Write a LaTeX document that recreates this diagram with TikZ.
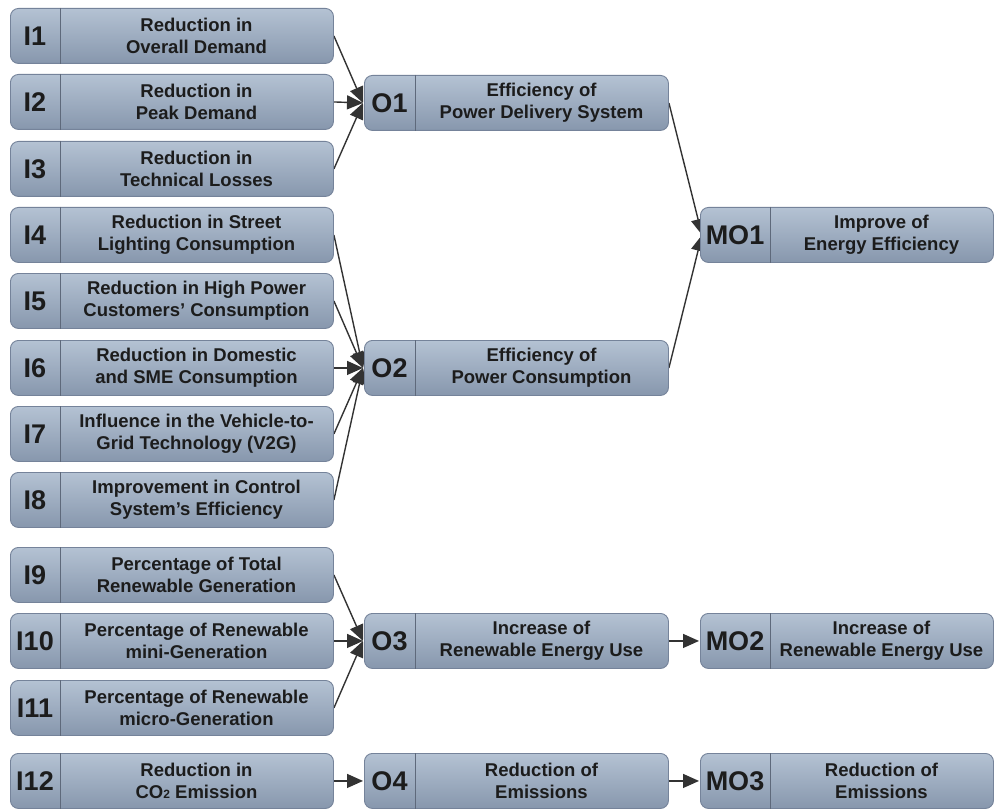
\documentclass[tikz,border=0pt]{standalone}
\usepackage{fontspec}
\setmainfont{Liberation Sans}
\usetikzlibrary{arrows.meta,calc,backgrounds}
\definecolor{boxtop}{HTML}{B4C2D3}
\definecolor{boxmid}{HTML}{9FB0C4}
\definecolor{boxbot}{HTML}{8797AD}
\definecolor{boxline}{HTML}{75839A}
\definecolor{txt}{HTML}{1C1C1C}
\definecolor{arrc}{HTML}{333333}
\tikzset{
  kbox/.style={rectangle, rounded corners=8pt, draw=boxline, line width=0.9pt,
    top color=boxtop, middle color=boxmid, bottom color=boxbot, minimum height=55pt, inner sep=0pt},
  divline/.style={draw=boxline!80!black, line width=0.9pt},
  lbl/.style={text=txt, font=\fontsize{27}{30}\selectfont\bfseries, inner sep=0pt},
  desc/.style={text=txt, font=\fontsize{18.5}{22}\selectfont\bfseries, align=center, inner sep=0pt},
  arr/.style={draw=arrc, line width=1.4pt, -{Triangle[length=16pt,width=14pt]}}
}
\newcommand{\kbox}[7]{%
  \node[kbox, minimum width=#4pt, anchor=north west] (#1) at (#2,#3) {};
  \draw[divline] ($(#1.north west)+(#5,0)$) -- ($(#1.south west)+(#5,0)$);
  \node[lbl] (#1l) at ($(#1.west)+({#5/2},0)$) {#6};
  \node[desc] (#1t) at ($(#1.west)+({#5+(#4-#5)/2},0)$) {#7};
}
\begin{document}
\begin{tikzpicture}[x=1pt,y=-1pt]
\useasboundingbox (0,0) rectangle (995,810);
% inputs
\kbox{I1}{10}{8}{323}{50}{I1}{Reduction in\\Overall Demand}
\kbox{I2}{10}{74}{323}{50}{I2}{Reduction in\\Peak Demand}
\kbox{I3}{10}{141}{323}{50}{I3}{Reduction in\\Technical Losses}
\kbox{I4}{10}{207}{323}{50}{I4}{Reduction in Street\\Lighting Consumption}
\kbox{I5}{10}{273}{323}{50}{I5}{Reduction in High Power\\Customers’ Consumption}
\kbox{I6}{10}{340}{323}{50}{I6}{Reduction in Domestic\\and SME Consumption}
\kbox{I7}{10}{406}{323}{50}{I7}{Influence in the Vehicle-to-\\Grid Technology (V2G)}
\kbox{I8}{10}{472}{323}{50}{I8}{Improvement in Control\\System’s Efficiency}
\kbox{I9}{10}{547}{323}{50}{I9}{Percentage of Total\\Renewable Generation}
\kbox{I10}{10}{613}{323}{50}{I10}{Percentage of Renewable\\mini-Generation}
\kbox{I11}{10}{680}{323}{50}{I11}{Percentage of Renewable\\micro-Generation}
\kbox{I12}{10}{753}{323}{50}{I12}{Reduction in\\CO{\raisebox{-0.5pt}{\fontsize{12}{12}\selectfont 2}} Emission}
% objectives
\kbox{O1}{364}{75}{304}{51}{O1}{Efficiency of\\Power Delivery System}
\kbox{O2}{364}{340}{304}{51}{O2}{Efficiency of\\Power Consumption}
\kbox{O3}{364}{613}{304}{51}{O3}{Increase of\\Renewable Energy Use}
\kbox{O4}{364}{753}{304}{51}{O4}{Reduction of\\Emissions}
% main objectives
\kbox{MO1}{700}{207}{293}{70}{MO1}{Improve of\\Energy Efficiency}
\kbox{MO2}{700}{613}{293}{70}{MO2}{Increase of\\Renewable Energy Use}
\kbox{MO3}{700}{753}{293}{70}{MO3}{Reduction of\\Emissions}
% connectors
\begin{scope}[on background layer]
  \fill[white] (0,0) rectangle (995,810);
  \foreach \s in {I1,I2,I3} \draw[arr] (\s.east) -- ($(O1.west)+(-1,0)$);
  \foreach \s in {I4,I5,I6,I7,I8} \draw[arr] (\s.east) -- ($(O2.west)+(-1,0)$);
  \foreach \s in {I9,I10,I11} \draw[arr] (\s.east) -- ($(O3.west)+(-1,0)$);
  \draw[arr] (I12.east) -- ($(O4.west)+(-1,0)$);
  \draw[arr] (O1.east) -- ($(MO1.west)+(2,0)$);
  \draw[arr] (O2.east) -- ($(MO1.west)+(2,0)$);
  \draw[arr] (O3.east) -- ($(MO2.west)+(-1,0)$);
  \draw[arr] (O4.east) -- ($(MO3.west)+(-1,0)$);
\end{scope}
\end{tikzpicture}
\end{document}
